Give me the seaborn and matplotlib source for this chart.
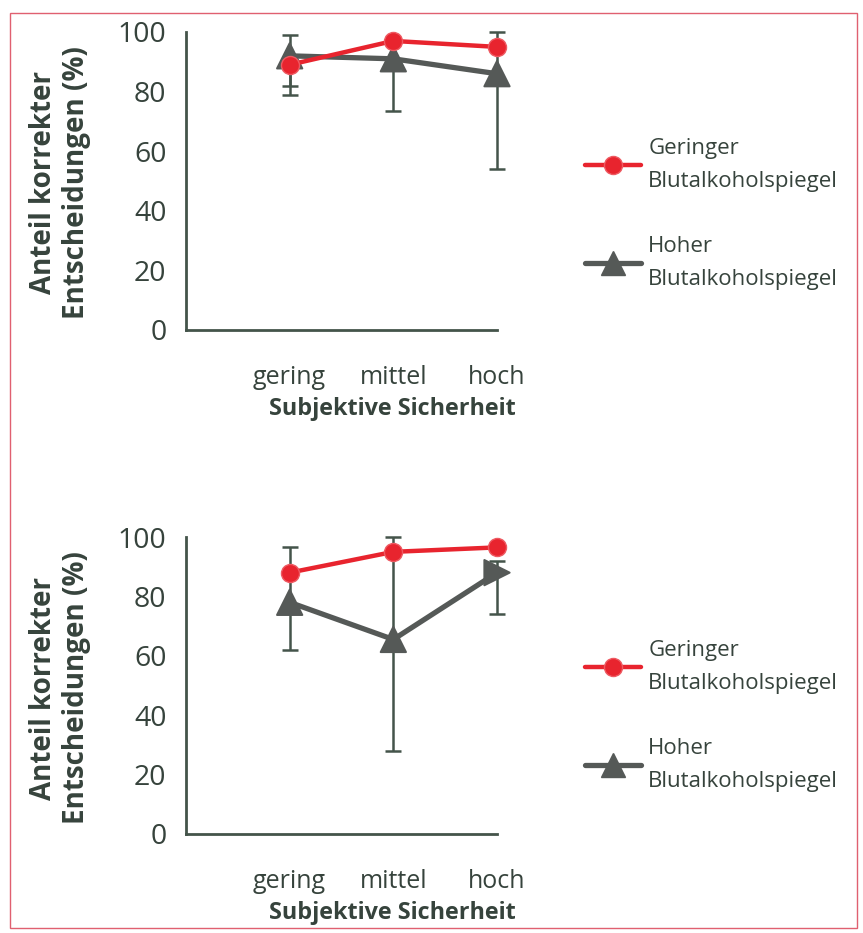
import matplotlib
matplotlib.use("Agg")
import matplotlib.pyplot as plt
import seaborn as sns
import pandas as pd
import numpy as np
from matplotlib.lines import Line2D
from matplotlib.patches import Rectangle

# categories and values
categories = ['gering', 'mittel', 'hoch']
series_names = ['Geringer\nBlutalkoholspiegel', 'Hoher\nBlutalkoholspiegel']

top_low_alc = [89, 97, 95]
top_high_alc = [92, 91, 86]
top_low_alc_err = [[7, 0, 0], [0, 0, 0]]        # [down, up]
top_high_alc_err = [[13, 17.5, 32], [7, 0, 14]]

bot_low_alc = [88, 95, 96.5]
bot_high_alc = [78, 65.5, 88]
bot_low_alc_err = [[0, 0, 0], [0, 0, 0]]
bot_high_alc_err = [[16, 37.5, 14], [18.5, 34.5, 4]]

top_markers = ['^', '^', '^']
bot_markers = ['^', '^', '>']

sns.set_style('white')
plt.rcParams['font.family'] = ['Open Sans', 'DejaVu Sans']

RED = '#e8242e'
GRAY = '#555957'
AXC = '#44544a'
TXT = '#36433c'

fig = plt.figure(figsize=(8.63, 9.33), dpi=100)
W, H = 863, 933


def px_axes(left, right, top, bottom):
    return fig.add_axes([left / W, 1 - bottom / H, (right - left) / W, (bottom - top) / H])


def draw_panel(ax, low_vals, high_vals, low_err, high_err, markers, legend_y):
    df = pd.DataFrame({'x': list(range(3)) * 2,
                       'y': low_vals + high_vals,
                       'group': ['low'] * 3 + ['high'] * 3})
    # error bars first, under everything
    ax.errorbar(range(3), high_vals, yerr=high_err, fmt='none', ecolor=AXC,
                elinewidth=1.8, capsize=6, capthick=1.8, zorder=1, clip_on=False)
    ax.errorbar(range(3), low_vals, yerr=low_err, fmt='none', ecolor=AXC,
                elinewidth=1.8, capsize=6, capthick=1.8, zorder=1, clip_on=False)
    sns.lineplot(data=df[df.group == 'high'], x='x', y='y', color=GRAY, lw=3.8,
                 ax=ax, legend=False, zorder=2)
    mk = pd.DataFrame({'x': range(3), 'y': high_vals, 'm': markers})
    sns.scatterplot(data=mk, x='x', y='y', style='m',
                    markers={'^': '^', '>': '>'}, color=GRAY, s=330,
                    edgecolor=GRAY, ax=ax, legend=False, zorder=3, clip_on=False)
    sns.lineplot(data=df[df.group == 'low'], x='x', y='y', color=RED, lw=3.2,
                 marker='o', markersize=13, markeredgecolor='#ee5a62',
                 markeredgewidth=1, ax=ax, legend=False, zorder=4, clip_on=False)

    ax.set_xlim(-1, 2)
    ax.set_ylim(0, 100)
    ax.set_xticks([-1, 0, 1, 2])
    ax.set_xticklabels([''] + categories)
    ax.set_yticks(range(0, 101, 20))
    sns.despine(ax=ax)
    for s in ['left', 'bottom']:
        ax.spines[s].set_color(AXC)
        ax.spines[s].set_linewidth(2)
    ax.tick_params(axis='x', direction='out', length=10, width=2, color=AXC,
                   labelsize=18, labelcolor=TXT, pad=15)
    ax.tick_params(axis='y', direction='out', length=8, width=2, color=AXC,
                   labelsize=20.5, labelcolor=TXT, pad=6)
    ax.set_xlabel('Subjektive Sicherheit', fontsize=16.8, fontweight='bold', color=TXT)
    ax.xaxis.set_label_coords(0.662, -0.225)
    ax.xaxis.label.set_va('top')
    ax.set_ylabel('')

    handles = [Line2D([], [], color=RED, lw=3.2, marker='o', markersize=13,
                      markeredgecolor='#ee5a62'),
               Line2D([], [], color=GRAY, lw=3.8, marker='^', markersize=17)]
    leg = ax.legend(handles, series_names, loc='center left',
                    bbox_to_anchor=(585 / W, legend_y), bbox_transform=fig.transFigure,
                    frameon=False, fontsize=16, labelcolor=TXT, handlelength=2.5,
                    handletextpad=0.35, labelspacing=2.0, borderpad=0, borderaxespad=0)
    for t in leg.get_texts():
        t.set_linespacing(1.75)


ax1 = px_axes(186, 497, 32, 330)
draw_panel(ax1, top_low_alc, top_high_alc, top_low_alc_err, top_high_alc_err,
           top_markers, 1 - 214 / H)
ax2 = px_axes(186, 497, 537, 834)
draw_panel(ax2, bot_low_alc, bot_high_alc, bot_low_alc_err, bot_high_alc_err,
           bot_markers, 1 - 716 / H)

for cy in [183, 688]:
    fig.text(60 / W, 1 - cy / H, 'Anteil korrekter\nEntscheidungen (%)',
             rotation=90, ha='center', va='center', fontsize=20,
             fontweight='bold', color=TXT, linespacing=1.15)

# scan frame around the figure
fig.patches.append(Rectangle((10 / W, 1 - 928 / H), 847 / W, 915 / H,
                             transform=fig.transFigure, fill=False,
                             edgecolor='#e06070', lw=1))

fig.savefig('out.png', dpi=100)
